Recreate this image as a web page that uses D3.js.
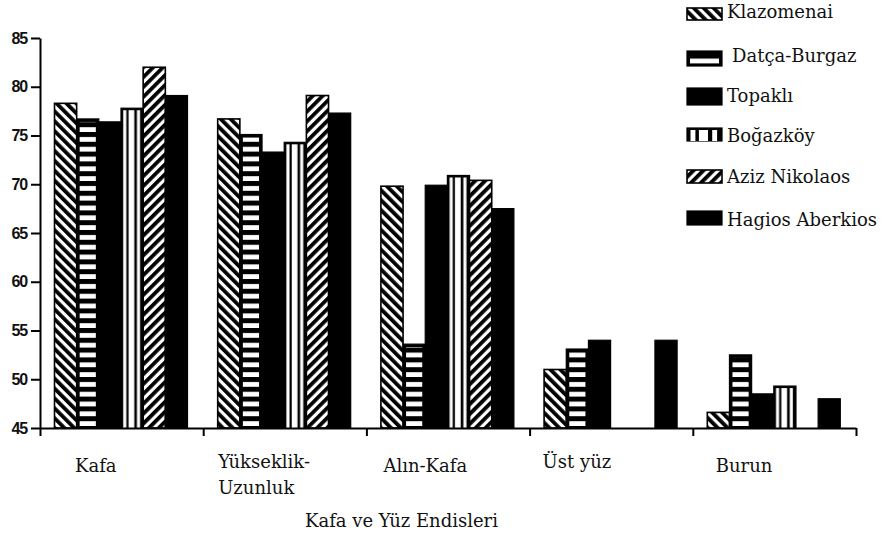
<!DOCTYPE html>
<html><head><meta charset="utf-8">
<script src="https://cdn.jsdelivr.net/npm/d3@7/dist/d3.min.js"></script>
<style>
body{margin:0;background:#fff;}
svg{display:block;}
</style></head>
<body><svg id="chart" width="888" height="533"></svg>
<script>
// ---- data ----
const categories = ["Kafa", "Yükseklik-Uzunluk", "Alın-Kafa", "Üst yüz", "Burun"];
const categoryLines = [["Kafa"], ["Yükseklik-", "Uzunluk"], ["Alın-Kafa"], ["Üst yüz"], ["Burun"]];
const seriesNames = ["Klazomenai", "Datça-Burgaz", "Topaklı", "Boğazköy", "Aziz Nikolaos", "Hagios Aberkios"];
const klazomenai     = [78.3, 76.7, 69.8, 51.0, 46.6];
const datcaBurgaz    = [76.7, 75.1, 53.6, 53.1, 52.5];
const topakli        = [76.4, 73.3, 69.9, 54.0, 48.5];
const bogazkoy       = [77.8, 74.3, 70.9, null, 49.3];
const azizNikolaos   = [82.0, 79.1, 70.4, null, null];
const hagiosAberkios = [79.1, 77.3, 67.5, 54.0, 48.0];
const yTicks = [45, 50, 55, 60, 65, 70, 75, 80, 85];
const xTitle = "Kafa ve Yüz Endisleri";

const seriesValues = [klazomenai, datcaBurgaz, topakli, bogazkoy, azizNikolaos, hagiosAberkios];
const seriesStyle = ["diagBack", "hstripes", "solid", "vstripes", "diagFwd", "solid"];

// ---- layout ----
const SERIF = "DejaVu Serif";
const svg = d3.select("#chart");
const mLeft = 40, mRight = 856, mTop = 38, base = 428;
const labelDx = [35, 15, 17, 13, 23];

const x0 = d3.scaleBand().domain(categories).range([mLeft, mRight]).padding(0);
const x1 = d3.scaleBand().domain(seriesNames).range([14.5, 147.5]).padding(0);
const y = d3.scaleLinear().domain([45, 85]).range([base, mTop]);
const xb = d3.scaleLinear().domain([0, categories.length]).range([mLeft, mRight]);

// ---- patterns ----
const defs = svg.append("defs");
function diag(id, angle) {
  const p = defs.append("pattern").attr("id", id).attr("patternUnits", "userSpaceOnUse")
    .attr("width", 7).attr("height", 7).attr("patternTransform", `rotate(${angle})`);
  p.append("rect").attr("width", 7).attr("height", 7).attr("fill", "#fff");
  p.append("rect").attr("width", 3.8).attr("height", 7).attr("fill", "#000");
}
diag("diagBack", -45);
diag("diagFwd", 45);
const hp = defs.append("pattern").attr("id", "hstripes").attr("patternUnits", "userSpaceOnUse")
  .attr("width", 20).attr("height", 9.8).attr("y", base - 2);
hp.append("rect").attr("y", 5).attr("width", 20).attr("height", 4.8).attr("fill", "#fff");
const vp = defs.append("pattern").attr("id", "vstripes").attr("patternUnits", "objectBoundingBox")
  .attr("patternContentUnits", "objectBoundingBox").attr("width", 1).attr("height", 1);
[[0.10, 0.14], [0.34, 0.26], [0.72, 0.14]].forEach(([a, w]) =>
  vp.append("rect").attr("x", a).attr("width", w).attr("height", 1).attr("fill", "#fff"));

// ---- bars ----
const bars = [];
categories.forEach((c, ci) => seriesNames.forEach((s, si) => {
  const v = seriesValues[si][ci];
  if (v != null) bars.push({c, s, si, v});
}));

function drawMark(g, style, bx, by, bw, bh) {
  if (style === "diagBack" || style === "diagFwd") {
    g.append("rect").attr("x", bx).attr("y", by).attr("width", bw).attr("height", bh)
      .attr("fill", `url(#${style})`).attr("stroke", "#000").attr("stroke-width", 1.6);
  } else {
    g.append("rect").attr("x", bx).attr("y", by).attr("width", bw).attr("height", bh)
      .attr("fill", "#000").attr("stroke", "#000").attr("stroke-width", 1.2);
    if (style === "hstripes") {
      g.append("rect").attr("x", bx + 3).attr("y", by + 3).attr("width", bw - 6).attr("height", Math.max(0, bh - 4))
        .attr("fill", "url(#hstripes)");
    } else if (style === "vstripes") {
      g.append("rect").attr("x", bx).attr("y", by + 2).attr("width", bw).attr("height", Math.max(0, bh - 2))
        .attr("fill", "url(#vstripes)");
    }
  }
}

const gBars = svg.append("g");
bars.forEach(d => {
  const bx = x0(d.c) + x1(d.s);
  const by = y(d.v);
  drawMark(gBars.append("g"), seriesStyle[d.si], bx, by, x1.bandwidth(), base - by);
});

// ---- axes ----
const yAxis = svg.append("g").attr("transform", `translate(${mLeft},0)`)
  .call(d3.axisLeft(y).tickValues(yTicks).tickSize(9).tickPadding(4).tickSizeOuter(0));
yAxis.select(".domain").attr("stroke-width", 2);
yAxis.selectAll(".tick line").attr("stroke-width", 2);
yAxis.attr("font-family", "Liberation Sans").attr("font-size", 16);
yAxis.selectAll("text").attr("font-weight", "bold").attr("letter-spacing", "-1.2px").attr("fill", "#111");

const xAxis = svg.append("g").attr("transform", `translate(0,${base})`)
  .call(d3.axisBottom(xb).ticks(categories.length).tickSize(8).tickFormat("").tickSizeOuter(0));
xAxis.select(".domain").attr("stroke-width", 2);
xAxis.selectAll(".tick line").attr("stroke-width", 2);

function serifText(x, yy, size) {
  return svg.append("text").style("font-family", SERIF).style("font-size", size + "px")
    .attr("fill", "#111").attr("x", x).attr("y", yy);
}

// category labels
categories.forEach((c, i) => {
  const xx = x0(c) + labelDx[i];
  const t = serifText(xx, categoryLines[i].length > 1 || c === "Üst yüz" ? 468 : 472, 18);
  categoryLines[i].forEach((ln, k) => t.append("tspan").attr("x", xx).attr("dy", k ? 26 : 0).text(ln));
});
serifText(305, 527, 18).text(xTitle);

// ---- legend ----
const legendY = [8, 51, 88, 128, 170, 211];
const legendH = [12, 15, 17, 13, 13, 14];
const legendTextY = [18, 62, 102, 142, 183, 226];
seriesNames.forEach((s, i) => {
  const g = svg.append("g");
  drawMark(g, seriesStyle[i], 687, legendY[i], 35, legendH[i]);
  serifText(i === 1 ? 732 : 727, legendTextY[i], 18).text(s);
});
</script></body></html>
